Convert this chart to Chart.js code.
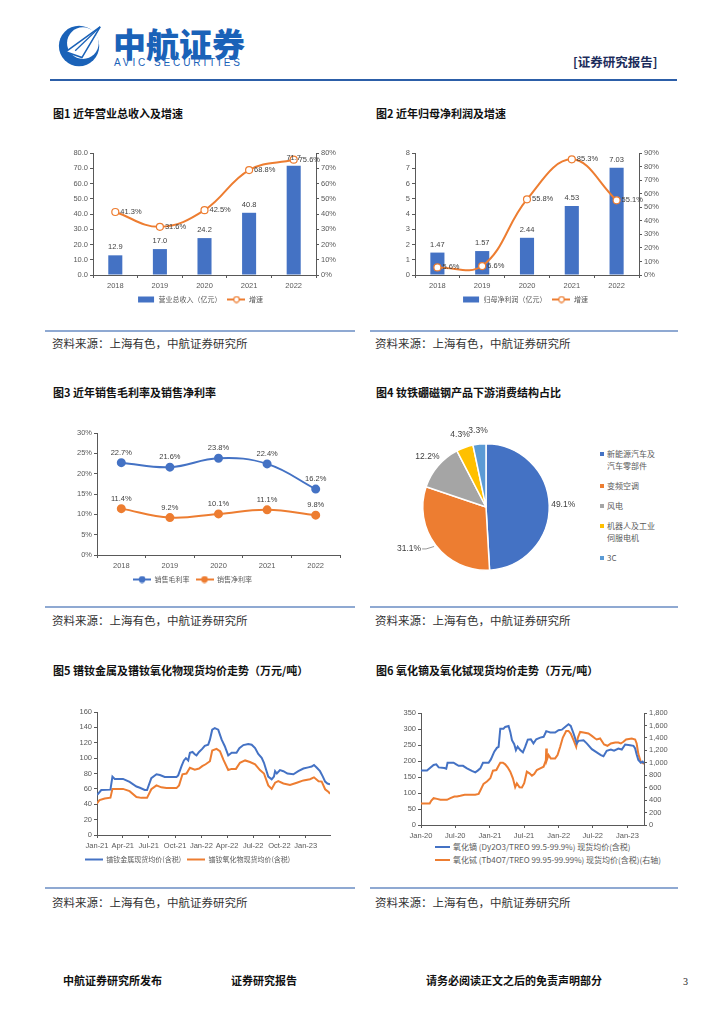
<!DOCTYPE html>
<html>
<head>
<meta charset="utf-8">
<script src="https://cdn.jsdelivr.net/npm/chart.js@4.4.1/dist/chart.umd.min.js"></script>
<style>
html, body { margin: 0; padding: 0; background: #fff; }
body { width: 724px; height: 1024px; position: relative; overflow: hidden; font-family: "Noto Sans CJK SC", "Noto Sans", sans-serif; color: #222; }
.abs { position: absolute; white-space: nowrap; }
.title { font-size: 11px; font-weight: bold; color: #111; line-height: 14px; }
.src { font-size: 11.5px; color: #333; line-height: 14px; }
.rule { position: absolute; height: 1.5px; background: #8fa9d2; }
.foot { font-size: 11px; font-weight: bold; color: #111; line-height: 14px; }
canvas { position: absolute; }
.pieLegend { position: absolute; left: 600px; top: 448px; width: 70px; font-size: 8px; line-height: 12px; color: #595959; }
.pieLegend div { position: relative; padding-left: 7px; margin-bottom: 8px; white-space: normal; width: 50px; }
.pieLegend i { position: absolute; left: 0; top: 4px; width: 4px; height: 4px; }
.lg6 { position: absolute; left: 435px; top: 840px; font-size: 8px; line-height: 13px; color: #595959; }
.lg6 div { white-space: nowrap; }
.lg6 i { display: inline-block; width: 15px; height: 2px; vertical-align: middle; margin-right: 3px; position: relative; top: -1px; }
</style>
</head>
<body>

<!-- header -->
<svg class="abs" style="left:56px;top:22px" width="48" height="48" viewBox="0 0 50 50">
  <circle cx="24" cy="25" r="21" fill="#1a62b8"/>
  <circle cx="28" cy="22" r="16.5" fill="#fff"/>
  <polygon points="10,31 46,5 27,37" fill="#fff" stroke="#1a62b8" stroke-width="1.6"/>
  <line x1="20" y1="30" x2="46" y2="5" stroke="#1a62b8" stroke-width="1.3"/>
  <text x="19" y="43" font-size="5" font-family="Liberation Sans" fill="#1a62b8">AVIC</text>
</svg>
<div class="abs" style="left:113px;top:24px;font-size:33px;line-height:38px;font-weight:900;color:#1a62b8">中航证券</div>
<div class="abs" style="left:114px;top:57px;font-size:10px;line-height:12px;color:#1a62b8;letter-spacing:2.9px;font-family:'Liberation Sans',Arial,sans-serif">AVIC SECURITIES</div>
<div class="abs" style="left:573px;top:54px;font-size:12.5px;line-height:16px;font-weight:bold;color:#1c2c5b">[证券研究报告]</div>
<div class="abs" style="left:50px;top:79px;width:627px;height:2px;background:#2c5ea8"></div>

<!-- row 1 -->
<div class="abs title" style="left:53px;top:106px">图1 近年营业总收入及增速</div>
<div class="abs title" style="left:376px;top:106px">图2 近年归母净利润及增速</div>
<canvas id="c1" width="310" height="173" style="left:45px;top:140px"></canvas>
<canvas id="c2" width="310" height="173" style="left:370px;top:140px"></canvas>
<div class="rule" style="left:45px;top:330px;width:310px"></div>
<div class="rule" style="left:370px;top:330px;width:308px"></div>
<div class="abs src" style="left:52px;top:336px">资料来源：上海有色，中航证券研究所</div>
<div class="abs src" style="left:375px;top:336px">资料来源：上海有色，中航证券研究所</div>

<!-- row 2 -->
<div class="abs title" style="left:53px;top:385px">图3 近年销售毛利率及销售净利率</div>
<div class="abs title" style="left:376px;top:385px">图4 钕铁硼磁钢产品下游消费结构占比</div>
<canvas id="c3" width="310" height="173" style="left:45px;top:420px"></canvas>
<canvas id="c4" width="192" height="174" style="left:390px;top:420px"></canvas>
<div class="pieLegend" id="pieLegend"></div>
<div class="rule" style="left:45px;top:606px;width:310px"></div>
<div class="rule" style="left:370px;top:606px;width:308px"></div>
<div class="abs src" style="left:52px;top:613px">资料来源：上海有色，中航证券研究所</div>
<div class="abs src" style="left:375px;top:613px">资料来源：上海有色，中航证券研究所</div>

<!-- row 3 -->
<div class="abs title" style="left:53px;top:663px">图5 镨钕金属及镨钕氧化物现货均价走势（万元/吨）</div>
<div class="abs title" style="left:376px;top:663px">图6 氧化镝及氧化铽现货均价走势（万元/吨）</div>
<canvas id="c5" width="310" height="173" style="left:45px;top:700px"></canvas>
<canvas id="c6" width="310" height="140" style="left:370px;top:700px"></canvas>
<div class="lg6" id="lg6"></div>
<div class="rule" style="left:45px;top:887px;width:310px"></div>
<div class="rule" style="left:370px;top:887px;width:308px"></div>
<div class="abs src" style="left:52px;top:895px">资料来源：上海有色，中航证券研究所</div>
<div class="abs src" style="left:375px;top:895px">资料来源：上海有色，中航证券研究所</div>

<!-- footer -->
<div class="abs foot" style="left:63px;top:973px">中航证券研究所发布</div>
<div class="abs foot" style="left:231px;top:973px">证券研究报告</div>
<div class="abs foot" style="left:426px;top:973px">请务必阅读正文之后的免责声明部分</div>
<div class="abs" style="left:683px;top:976px;font-size:10px;font-family:'Liberation Serif',serif">3</div>

<script>
// ---- data ----
const years = ['2018', '2019', '2020', '2021', '2022'];
const revenue = [12.9, 17.0, 24.2, 40.8, 71.7];
const revenueGrowth = [41.3, 31.6, 42.5, 68.8, 75.6];
const profit = [1.47, 1.57, 2.44, 4.53, 7.03];
const profitGrowth = [5.6, 6.6, 55.8, 85.3, 55.1];
const grossMargin = [22.7, 21.6, 23.8, 22.4, 16.2];
const netMargin = [11.4, 9.2, 10.1, 11.1, 9.8];

const pieLabels = ['新能源汽车及汽车零部件', '变频空调', '风电', '机器人及工业伺服电机', '3C'];
const pieShares = [49.1, 31.1, 12.2, 4.3, 3.3];

// 镨钕金属 / 镨钕氧化物 (万元/吨)
const pndMetalDates = ['2021-01-01','2021-01-16','2021-02-17','2021-02-24','2021-03-04','2021-04-02','2021-04-25','2021-05-19','2021-05-31','2021-06-17','2021-06-25','2021-07-10','2021-07-28','2021-08-09','2021-08-26','2021-10-06','2021-10-12','2021-10-24','2021-11-01','2021-11-08','2021-11-16','2021-11-22','2021-12-01','2021-12-09','2021-12-15','2021-12-24','2022-01-04','2022-01-13','2022-01-25','2022-01-31','2022-02-08','2022-02-17','2022-03-01','2022-03-13','2022-03-24','2022-04-05','2022-04-17','2022-05-04','2022-05-14','2022-05-28','2022-06-14','2022-06-26','2022-07-08','2022-07-19','2022-07-31','2022-08-08','2022-08-23','2022-09-04','2022-09-12','2022-09-16','2022-09-22','2022-10-03','2022-10-15','2022-10-29','2022-11-19','2022-12-06','2022-12-24','2023-01-10','2023-01-22','2023-01-30','2023-02-09','2023-02-20','2023-03-02','2023-03-10','2023-03-18','2023-03-27'];
const pndMetalPrices = [52, 58.5, 59, 76, 73, 73, 69, 63, 61.5, 58.5, 58.5, 74, 79, 78, 75.5, 75.5, 77.5, 90, 97, 100, 97, 107, 108, 105, 103.5, 108, 112, 116, 117.5, 124, 137, 139, 137, 124, 115.5, 103.5, 107, 107, 113, 117, 118.5, 117.5, 113, 105.5, 100.5, 94, 76, 72.5, 76, 83, 80, 84.5, 83, 80, 79, 83, 86.5, 88, 89, 91, 87.5, 83, 76, 69.5, 67, 66];
const pndOxideDates = ['2021-01-01','2021-01-10','2021-01-28','2021-02-17','2021-02-24','2021-04-02','2021-04-25','2021-05-19','2021-06-05','2021-06-25','2021-07-10','2021-07-28','2021-08-14','2021-09-01','2021-10-06','2021-10-15','2021-10-27','2021-11-10','2021-11-22','2021-12-09','2021-12-24','2022-01-04','2022-01-16','2022-01-31','2022-02-08','2022-02-23','2022-03-07','2022-03-19','2022-04-05','2022-04-17','2022-05-02','2022-05-16','2022-06-03','2022-06-20','2022-07-08','2022-07-25','2022-08-08','2022-08-23','2022-09-04','2022-09-16','2022-09-27','2022-10-15','2022-11-07','2022-12-01','2022-12-24','2023-01-16','2023-01-30','2023-02-15','2023-02-26','2023-03-10','2023-03-22','2023-03-27'];
const pndOxidePrices = [41, 45.5, 47.5, 48.5, 60, 60, 57, 49.5, 48.3, 48.3, 59.5, 64.5, 62, 61, 61, 64.5, 79, 80, 87.5, 85, 86.5, 89.5, 92, 96, 110, 112, 109, 98, 84.5, 86, 86, 94, 97, 95, 92, 84.5, 80, 64.5, 60, 68, 70, 67, 65, 68, 71, 72.5, 75, 70, 69.5, 59.5, 56, 53.5];
const pndTickDates = ['2021-01-01','2021-04-01','2021-07-01','2021-10-01','2022-01-01','2022-04-01','2022-07-01','2022-10-01','2023-01-01'];
const pndTickLabels = ['Jan-21','Apr-21','Jul-21','Oct-21','Jan-22','Apr-22','Jul-22','Oct-22','Jan-23'];
const pndSeriesNames = ['镨钕金属现货均价(含税)', '镨钕氧化物现货均价(含税)'];

// 氧化镝 (左轴) / 氧化铽 (右轴)
const dyDates = ['2020-01-01','2020-02-02','2020-02-16','2020-03-08','2020-03-22','2020-04-04','2020-05-04','2020-05-14','2020-05-21','2020-06-22','2020-07-06','2020-07-19','2020-08-11','2020-09-01','2020-09-27','2020-10-15','2020-10-28','2020-11-11','2020-11-25','2020-12-25','2021-01-06','2021-01-24','2021-02-07','2021-02-16','2021-02-25','2021-03-14','2021-03-23','2021-04-10','2021-04-19','2021-04-28','2021-05-10','2021-05-19','2021-05-28','2021-06-11','2021-06-25','2021-07-07','2021-07-21','2021-08-06','2021-08-20','2021-09-04','2021-09-25','2021-10-13','2021-10-27','2021-11-08','2021-11-17','2021-12-13','2021-12-31','2022-01-18','2022-02-04','2022-02-22','2022-03-06','2022-03-21','2022-04-07','2022-04-16','2022-05-13','2022-05-30','2022-06-26','2022-07-22','2022-08-13','2022-08-27','2022-09-13','2022-10-05','2022-10-22','2022-11-14','2022-12-02','2022-12-20','2023-01-15','2023-02-02','2023-02-11','2023-02-19','2023-02-28','2023-03-13','2023-03-23','2023-03-30'];
const dyPrices = [170, 170, 177, 187.5, 189.5, 180, 178, 176, 194.5, 194.5, 189.5, 185, 185, 177, 169, 164.5, 170, 177, 194.5, 194.5, 205, 229, 241, 244, 301, 301, 306.5, 309.5, 291, 265, 252.5, 234, 245, 234, 227, 244, 267, 268, 255, 268, 273, 275.5, 293, 291, 289, 289, 296, 298, 306.5, 315, 309.5, 286, 255, 263, 265, 255, 237, 227, 218.5, 215, 232, 236, 232, 239, 236, 251.5, 249.5, 247.5, 239, 220.5, 203, 194.5, 198, 192.5];
const tbDates = ['2020-01-01','2020-02-16','2020-02-25','2020-03-08','2020-03-26','2020-04-13','2020-05-18','2020-06-05','2020-06-26','2020-07-10','2020-07-28','2020-08-20','2020-10-15','2020-11-02','2020-11-11','2020-11-28','2020-12-16','2021-01-03','2021-01-17','2021-02-04','2021-02-16','2021-02-25','2021-03-11','2021-03-23','2021-04-05','2021-04-19','2021-05-03','2021-05-15','2021-05-24','2021-06-07','2021-06-20','2021-07-02','2021-07-16','2021-07-30','2021-08-12','2021-08-24','2021-09-07','2021-09-25','2021-10-13','2021-10-25','2021-10-27','2021-10-30','2021-11-08','2021-11-20','2021-12-13','2021-12-26','2022-01-09','2022-01-23','2022-02-10','2022-02-22','2022-03-06','2022-03-21','2022-04-04','2022-04-13','2022-04-25','2022-05-13','2022-06-08','2022-06-26','2022-07-14','2022-07-22','2022-08-09','2022-08-30','2022-09-17','2022-10-05','2022-10-28','2022-11-14','2022-11-27','2022-12-11','2022-12-25','2023-01-24','2023-02-11','2023-02-19','2023-02-28','2023-03-13','2023-03-30'];
const tbPrices = [346, 346, 394, 431, 420, 405, 405, 431, 458, 458, 469, 485, 485, 500, 554, 660, 698, 751, 873, 884, 953, 1001, 1001, 975, 927, 857, 751, 607, 671, 607, 602, 671, 857, 831, 793, 820, 884, 911, 937, 1040, 1230, 1044, 1124, 1070, 1070, 1124, 1257, 1406, 1512, 1512, 1470, 1363, 1257, 1406, 1496, 1486, 1470, 1432, 1390, 1374, 1390, 1294, 1273, 1310, 1326, 1326, 1310, 1337, 1374, 1390, 1374, 1310, 1140, 1017, 980];
const reTickDates = ['2020-01-01','2020-07-01','2021-01-01','2021-07-01','2022-01-01','2022-07-01','2023-01-01'];
const reTickLabels = ['Jan-20','Jul-20','Jan-21','Jul-21','Jan-22','Jul-22','Jan-23'];
const reSeriesNames = ['氧化镝 (Dy2O3/TREO 99.5-99.9%) 现货均价(含税)', '氧化铽 (Tb4O7/TREO 99.95-99.99%) 现货均价(含税)(右轴)'];

// ---- styling helpers ----
const BLUE = '#4472C4';
const ORANGE = '#ED7D31';
const AX = '#595959';
const tickFont = { family: "'Liberation Sans', Arial, sans-serif", size: 7.5 };
const legendFont = { family: "'Noto Sans CJK SC', sans-serif", size: 7 };

Chart.defaults.animation = false;
Chart.defaults.plugins.tooltip.enabled = false;

function ax(o) {
    const base = {
        border: { color: AX, width: 1 },
        grid: Object.assign({ drawOnChartArea: false, color: AX, tickLength: 3 }, o.grid || {}),
        ticks: Object.assign({ color: AX, font: tickFont, padding: 2 }, o.ticks || {})
    };
    const rest = Object.assign({}, o);
    delete rest.grid; delete rest.ticks;
    return Object.assign(base, rest);
}

const dayOf = (d, base) => Math.round((Date.parse(d) - Date.parse(base)) / 864e5);
const toPoints = (dates, vals, base) => dates.map((d, i) => ({ x: dayOf(d, base), y: vals[i] }));

// legend icons drawn on small canvases
function icon(kind, color) {
    const c = document.createElement('canvas');
    c.width = 18; c.height = 8;
    const g = c.getContext('2d');
    if (kind === 'bar') {
        g.fillStyle = color; g.fillRect(1, 1, 16, 6);
    } else {
        g.strokeStyle = color; g.lineWidth = 2;
        g.beginPath(); g.moveTo(0, 4); g.lineTo(18, 4); g.stroke();
        if (kind !== 'line') {
            g.beginPath(); g.arc(9, 4, 2.8, 0, Math.PI * 2);
            g.fillStyle = kind === 'hollow' ? '#fff' : color;
            g.fill(); g.lineWidth = 1.2; g.stroke();
        }
    }
    return c;
}

function legendOpts(icons) {
    return {
        position: 'bottom',
        labels: {
            usePointStyle: true, pointStyleWidth: 18, boxHeight: 7,
            color: AX, font: legendFont, padding: 6,
            sort: (a, b) => a.datasetIndex - b.datasetIndex,
            generateLabels: (chart) => Chart.defaults.plugins.legend.labels.generateLabels(chart)
                .map(it => Object.assign(it, { pointStyle: icons[it.datasetIndex] }))
        }
    };
}

// value labels for datasets, configured per chart
function valueLabels(sets) {
    return {
        id: 'valueLabels',
        afterDatasetsDraw(chart) {
            const ctx = chart.ctx;
            ctx.save();
            ctx.font = "7.5px 'Liberation Sans', Arial, sans-serif";
            ctx.fillStyle = '#404040';
            ctx.textBaseline = 'middle';
            sets.forEach((s, di) => {
                if (!s) return;
                const ds = chart.data.datasets[di];
                chart.getDatasetMeta(di).data.forEach((el, i) => {
                    ctx.textAlign = s.align;
                    ctx.fillText(s.fmt(ds.data[i]), el.x + s.dx, el.y + s.dy);
                });
            });
            ctx.restore();
        }
    };
}

const pct1 = v => v.toFixed(1) + '%';

// ---- 图1 ----
new Chart(document.getElementById('c1'), {
    type: 'bar',
    data: {
        labels: years,
        datasets: [
            { label: '营业总收入（亿元）', data: revenue, backgroundColor: BLUE, yAxisID: 'y', order: 1, barPercentage: 0.63, categoryPercentage: 0.5 },
            { type: 'line', label: '增速', data: revenueGrowth, yAxisID: 'y1', order: 0, borderColor: ORANGE, borderWidth: 2, tension: 0.4,
              pointRadius: 3.5, pointBackgroundColor: '#fff', pointBorderColor: ORANGE, pointBorderWidth: 1.2 }
        ]
    },
    options: {
        responsive: false,
        layout: { padding: { top: 13 } },
        plugins: { legend: legendOpts([icon('bar', BLUE), icon('hollow', ORANGE)]) },
        scales: {
            x: ax({ ticks: { padding: 3 }, afterFit: s => { s.height = 15; } }),
            y: ax({ position: 'left', min: 0, max: 80, ticks: { stepSize: 10, callback: v => v.toFixed(1) }, afterFit: s => { s.width = 48; } }),
            y1: ax({ position: 'right', min: 0, max: 80, ticks: { stepSize: 10, callback: v => v + '%' }, afterFit: s => { s.width = 39; } })
        }
    },
    plugins: [valueLabels([
        { fmt: v => v.toFixed(1), align: 'center', dx: 0, dy: -8 },
        { fmt: pct1, align: 'left', dx: 5, dy: 0 }
    ])]
});

// ---- 图2 ----
new Chart(document.getElementById('c2'), {
    type: 'bar',
    data: {
        labels: years,
        datasets: [
            { label: '归母净利润（亿元）', data: profit, backgroundColor: BLUE, yAxisID: 'y', order: 1, barPercentage: 0.63, categoryPercentage: 0.5 },
            { type: 'line', label: '增速', data: profitGrowth, yAxisID: 'y1', order: 0, borderColor: ORANGE, borderWidth: 2, tension: 0.4,
              pointRadius: 3.5, pointBackgroundColor: '#fff', pointBorderColor: ORANGE, pointBorderWidth: 1.2 }
        ]
    },
    options: {
        responsive: false,
        layout: { padding: { top: 13 } },
        plugins: { legend: legendOpts([icon('bar', BLUE), icon('hollow', ORANGE)]) },
        scales: {
            x: ax({ ticks: { padding: 3 }, afterFit: s => { s.height = 15; } }),
            y: ax({ position: 'left', min: 0, max: 8, ticks: { stepSize: 1 }, afterFit: s => { s.width = 45; } }),
            y1: ax({ position: 'right', min: 0, max: 90, ticks: { stepSize: 10, callback: v => v + '%' }, afterFit: s => { s.width = 41; } })
        }
    },
    plugins: [valueLabels([
        { fmt: v => v.toFixed(2), align: 'center', dx: 0, dy: -8 },
        { fmt: pct1, align: 'left', dx: 5, dy: 0 }
    ])]
});

// ---- 图3 ----
new Chart(document.getElementById('c3'), {
    type: 'line',
    data: {
        labels: years,
        datasets: [
            { label: '销售毛利率', data: grossMargin, borderColor: BLUE, backgroundColor: BLUE, borderWidth: 2, tension: 0.4, pointRadius: 3.5 },
            { label: '销售净利率', data: netMargin, borderColor: ORANGE, backgroundColor: ORANGE, borderWidth: 2, tension: 0.4, pointRadius: 3.5 }
        ]
    },
    options: {
        responsive: false,
        layout: { padding: { top: 13, right: 15 } },
        plugins: { legend: legendOpts([icon('dot', BLUE), icon('dot', ORANGE)]) },
        scales: {
            x: ax({ offset: true, grid: { offset: true }, ticks: { padding: 3 }, afterFit: s => { s.height = 15; } }),
            y: ax({ min: 0, max: 30, ticks: { stepSize: 5, callback: v => v + '%' }, afterFit: s => { s.width = 52; } })
        }
    },
    plugins: [valueLabels([
        { fmt: pct1, align: 'center', dx: 0, dy: -10 },
        { fmt: pct1, align: 'center', dx: 0, dy: -10 }
    ])]
});

// ---- 图4 ----
const pieColors = [BLUE, ORANGE, '#A5A5A5', '#FFC000', '#5B9BD5'];
new Chart(document.getElementById('c4'), {
    type: 'pie',
    data: { labels: pieLabels, datasets: [{ data: pieShares, backgroundColor: pieColors, borderColor: '#fff', borderWidth: 1.5 }] },
    options: {
        responsive: false,
        layout: { padding: { left: 32, right: 32, top: 22, bottom: 22 } },
        plugins: { legend: { display: false } }
    },
    plugins: [{
        id: 'pieLabels',
        afterDatasetsDraw(chart) {
            const ctx = chart.ctx;
            ctx.save();
            ctx.font = "8.5px 'Liberation Sans', Arial, sans-serif";
            ctx.fillStyle = '#404040';
            ctx.strokeStyle = '#7f7f7f';
            ctx.lineWidth = 0.8;
            ctx.textBaseline = 'middle';
            chart.getDatasetMeta(0).data.forEach((arc, i) => {
                const mid = (arc.startAngle + arc.endAngle) / 2;
                const cos = Math.cos(mid), sin = Math.sin(mid);
                const r = arc.outerRadius;
                const txt = pieShares[i].toFixed(1) + '%';
                if (cos < -0.6 && sin > 0.4) {
                    // lower-left label sits further out with a short leader line
                    const ex = arc.x + cos * (r + 12), ey = arc.y + sin * (r + 6);
                    ctx.beginPath();
                    ctx.moveTo(arc.x + cos * (r + 2), arc.y + sin * (r + 2));
                    ctx.lineTo(ex, ey);
                    ctx.lineTo(ex - 4, ey);
                    ctx.stroke();
                    ctx.textAlign = 'right';
                    ctx.fillText(txt, ex - 5, ey);
                } else {
                    ctx.textAlign = 'center';
                    ctx.fillText(txt, arc.x + cos * (r + 14), arc.y + sin * (r + 14));
                }
            });
            ctx.restore();
        }
    }]
});
document.getElementById('pieLegend').innerHTML = pieLabels
    .map((t, i) => `<div><i style="background:${pieColors[i]}"></i>${t}</div>`).join('');

// ---- 图5 ----
const pndBase = pndTickDates[0];
const pndTickDays = pndTickDates.map(d => dayOf(d, pndBase));
new Chart(document.getElementById('c5'), {
    type: 'line',
    data: {
        datasets: [
            { label: pndSeriesNames[0], data: toPoints(pndMetalDates, pndMetalPrices, pndBase), borderColor: BLUE, borderWidth: 2, pointRadius: 0, tension: 0 },
            { label: pndSeriesNames[1], data: toPoints(pndOxideDates, pndOxidePrices, pndBase), borderColor: ORANGE, borderWidth: 2, pointRadius: 0, tension: 0 }
        ]
    },
    options: {
        responsive: false,
        layout: { padding: { top: 12, right: 25 } },
        plugins: { legend: legendOpts([icon('line', BLUE), icon('line', ORANGE)]) },
        scales: {
            x: ax({ type: 'linear', min: 0, max: dayOf(pndMetalDates[pndMetalDates.length - 1], pndBase),
                    afterBuildTicks: s => { s.ticks = pndTickDays.map(v => ({ value: v })); },
                    ticks: { padding: 3, maxRotation: 0, callback: v => pndTickLabels[pndTickDays.indexOf(v)] },
                    afterFit: s => { s.height = 15; } }),
            y: ax({ min: 0, max: 160, ticks: { stepSize: 20 }, afterFit: s => { s.width = 52; } })
        }
    }
});

// ---- 图6 ----
const reBase = reTickDates[0];
const reTickDays = reTickDates.map(d => dayOf(d, reBase));
new Chart(document.getElementById('c6'), {
    type: 'line',
    data: {
        datasets: [
            { label: reSeriesNames[0], data: toPoints(dyDates, dyPrices, reBase), yAxisID: 'y', borderColor: BLUE, borderWidth: 2, pointRadius: 0, tension: 0 },
            { label: reSeriesNames[1], data: toPoints(tbDates, tbPrices, reBase), yAxisID: 'y1', borderColor: ORANGE, borderWidth: 2, pointRadius: 0, tension: 0 }
        ]
    },
    options: {
        responsive: false,
        layout: { padding: { top: 13 } },
        plugins: { legend: { display: false } },
        scales: {
            x: ax({ type: 'linear', min: 0, max: dayOf(dyDates[dyDates.length - 1], reBase),
                    afterBuildTicks: s => { s.ticks = reTickDays.map(v => ({ value: v })); },
                    ticks: { padding: 3, maxRotation: 0, callback: v => reTickLabels[reTickDays.indexOf(v)] },
                    afterFit: s => { s.height = 15; } }),
            y: ax({ position: 'left', min: 0, max: 350, ticks: { stepSize: 50 }, afterFit: s => { s.width = 51; } }),
            y1: ax({ position: 'right', min: 0, max: 1800, ticks: { stepSize: 200, callback: v => v.toLocaleString('en-US') }, afterFit: s => { s.width = 36; } })
        }
    }
});
document.getElementById('lg6').innerHTML = reSeriesNames
    .map((t, i) => `<div><i style="background:${[BLUE, ORANGE][i]}"></i>${t}</div>`).join('');
</script>
</body>
</html>
